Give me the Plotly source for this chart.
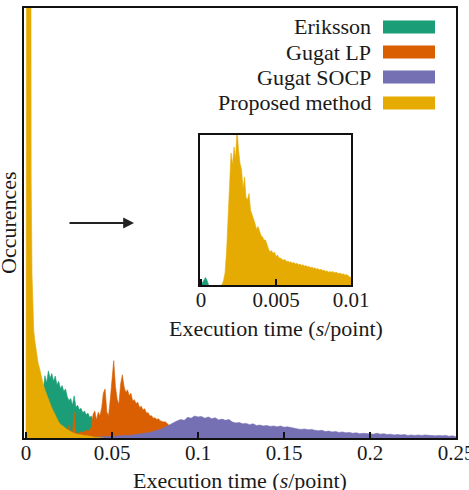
import plotly.graph_objects as go

W, H = 469, 490

# ---------------- data (main histogram, arbitrary occurrence units) ----------------
proposed_x = [0.0, 0.0005, 0.001, 0.0015, 0.002, 0.0025, 0.003, 0.0035, 0.004, 0.0045,
              0.005, 0.006, 0.007, 0.008, 0.009, 0.010, 0.011, 0.012, 0.013, 0.014,
              0.015, 0.016, 0.017, 0.018, 0.019, 0.020, 0.022, 0.024, 0.026, 0.028,
              0.030, 0.032, 0.034, 0.036, 0.038, 0.040, 0.045]
proposed_y = [0, 150, 400, 500, 450, 200, 60, 38, 29, 25,
              23, 20, 17.5, 16, 14, 12.5, 11.2, 10, 9, 8,
              7, 6.2, 5.4, 4.3, 3.7, 3.2, 2.5, 2.0, 1.5, 1.1,
              0.9, 0.7, 0.6, 0.5, 0.3, 0.2, 0]

eriksson_x = [0.009, 0.010, 0.011, 0.012, 0.013, 0.014, 0.015, 0.016, 0.017, 0.018,
              0.019, 0.020, 0.021, 0.022, 0.023, 0.024, 0.025, 0.026, 0.027, 0.028,
              0.029, 0.030, 0.031, 0.032, 0.033, 0.034, 0.035, 0.036, 0.037, 0.038,
              0.039, 0.040, 0.041, 0.042]
eriksson_y = [4, 11, 14.5, 12.8, 15.6, 13.9, 15.0, 13.2, 14.4, 12.4,
              13.2, 11.5, 12.2, 10.8, 11.4, 9.6, 8.7, 9.2, 7.6, 9.8,
              7.2, 7.6, 6.6, 6.9, 5.9, 6.3, 5.4, 5.8, 4.8, 5.1,
              3.9, 2.5, 1.2, 0]

gugat_lp_x = [0.024, 0.025, 0.026, 0.027, 0.028, 0.029, 0.030, 0.031, 0.032, 0.033,
              0.034, 0.035, 0.036, 0.037, 0.038, 0.039, 0.040, 0.041, 0.042, 0.043,
              0.044, 0.045, 0.046, 0.047, 0.048, 0.049, 0.050, 0.051, 0.052, 0.053,
              0.054, 0.055, 0.056, 0.057, 0.058, 0.059, 0.060, 0.061, 0.062, 0.063,
              0.064, 0.065, 0.066, 0.067, 0.068, 0.069, 0.070, 0.071, 0.072, 0.073,
              0.074, 0.075, 0.076, 0.077, 0.078, 0.079, 0.080, 0.081, 0.082, 0.083,
              0.084, 0.085, 0.086, 0.087]
gugat_lp_y = [0.5, 3.0, 0.8, 1.0, 6.0, 1.2, 1.0, 1.3, 1.5, 1.2,
              1.6, 1.8, 1.5, 2.0, 2.5, 5.5, 6.3, 4.2, 6.0, 5.2,
              7.0, 10.5, 11.4, 6.0, 5.2, 9.0, 13.0, 18.0, 12.0, 9.0,
              7.8, 12.5, 14.7, 12.0, 10.6, 11.2, 9.8, 10.4, 8.6, 8.9,
              8.0, 8.3, 7.1, 7.4, 6.5, 6.8, 5.8, 5.9, 5.1, 5.2,
              4.6, 4.7, 4.3, 4.5, 4.0, 3.9, 3.7, 3.8, 3.4, 3.2,
              2.6, 1.5, 0.5, 0]

gugat_socp_x = [round(0.036 + 0.002 * i, 3) for i in range(108)]
gugat_socp_y = [0.0, 0.1, 0.2, 0.2, 0.3, 0.3, 0.3, 0.4, 0.4, 0.5,
                0.5, 0.6, 0.6, 0.7, 0.8, 0.9, 1.0, 1.2, 1.3, 1.5,
                1.7, 2.0, 2.3, 2.8, 3.2, 3.6, 4.0, 4.3, 4.1, 4.8,
                4.6, 5.1, 4.9, 5.0, 4.6, 4.9, 4.5, 4.7, 4.2, 4.4,
                4.1, 4.3, 3.7, 3.5, 3.6, 3.3, 3.4, 3.1, 3.3, 2.9,
                3.0, 2.8, 2.9, 2.7, 2.8, 2.6, 2.8, 2.5, 2.6, 2.4,
                2.3, 2.1, 2.0, 2.1, 1.9, 2.0, 1.8, 1.7, 1.8, 1.5,
                1.6, 1.4, 1.5, 1.3, 1.4, 1.2, 1.3, 1.1, 1.2, 1.0,
                1.1, 1.0, 1.0, 0.9, 1.1, 0.9, 1.0, 0.8, 0.9, 0.7,
                0.8, 0.7, 0.8, 0.6, 0.7, 0.6, 0.7, 0.6, 0.7, 0.6,
                0.6, 0.5, 0.6, 0.5, 0.6, 0.4, 0.5, 0.3]

# ---------------- data (inset, 0 .. 0.01 s/point) ----------------
inset_eriksson_x = [0.0, 0.0001, 0.0002, 0.0003, 0.0004, 0.0005]
inset_eriksson_y = [0, 2, 4, 5, 3, 0]

inset_proposed_x = [round(0.0013 + 0.0001 * i, 4) for i in range(88)]
inset_proposed_y = [0, 0, 3, 8, 22, 45, 62, 88, 80, 92,
                    84, 104, 90, 81, 77, 64, 72, 58, 57, 61,
                    50, 47, 45, 41, 37, 39, 36, 33, 32, 30,
                    30, 26, 24, 22, 23, 21, 22, 19, 20, 18,
                    18, 17, 16.5, 17, 15.5, 16, 15, 15.5, 14.5, 15,
                    14, 14.5, 13.5, 14, 13, 13.5, 12.5, 13, 12, 12.5,
                    11.5, 12, 11, 11.5, 10.5, 11, 10, 10.5, 9.5, 10,
                    9, 9.5, 8.5, 9, 8.5, 9, 8, 8.5, 8, 7.5,
                    8, 7, 7.5, 6.5, 7, 6, 5.5, 5]

main_ticks = [0, 0.05, 0.1, 0.15, 0.2, 0.25]
main_tick_labels = ["0", "0.05", "0.1", "0.15", "0.2", "0.25"]
inset_ticks = [0, 0.005, 0.01]
inset_tick_labels = ["0", "0.005", "0.01"]

series_names = ["Eriksson", "Gugat LP", "Gugat SOCP", "Proposed method"]
colors = {"Eriksson": "#1b9e77", "Gugat LP": "#d95f02",
          "Gugat SOCP": "#7570b3", "Proposed method": "#e6ab02"}

FONT = "Liberation Serif"
TXT = "#1a1a1a"


def px_x(p):
    return p / W


def px_y(p):
    return (H - p) / H


fig = go.Figure()


def area(x, y, name, xa="x", ya="y"):
    fig.add_trace(go.Scatter(
        x=x, y=y, mode="lines", fill="tozeroy", name=name,
        line=dict(color=colors[name], width=0.6),
        fillcolor=colors[name], xaxis=xa, yaxis=ya, showlegend=False,
        hoverinfo="skip"))


# drawing order (back to front) as in the reference
area(eriksson_x, eriksson_y, "Eriksson")
area(gugat_lp_x, gugat_lp_y, "Gugat LP")
area(gugat_socp_x, gugat_socp_y, "Gugat SOCP")
area(proposed_x, proposed_y, "Proposed method")

area(inset_eriksson_x, inset_eriksson_y, "Eriksson", "x2", "y2")
area(inset_proposed_x, inset_proposed_y, "Proposed method", "x2", "y2")

axis_common = dict(showgrid=False, zeroline=False, showline=True, linecolor="#111",
                   linewidth=1.5, mirror=True, automargin=False)

fig.update_layout(
    width=W, height=H, autosize=False, showlegend=False,
    margin=dict(l=0, r=0, t=0, b=0, pad=0),
    paper_bgcolor="white", plot_bgcolor="white",
    font=dict(family=FONT, size=21, color=TXT),
    xaxis=dict(domain=[px_x(24), px_x(456)], range=[-0.00116, 0.25],
               tickvals=main_ticks, ticktext=main_tick_labels,
               ticks="inside", ticklen=6, tickwidth=1.5, tickcolor="#111",
               ticklabeloverflow="allow", ticklabelstandoff=-5,
               **axis_common),
    yaxis=dict(domain=[px_y(438), px_y(8)], range=[0, 100],
               showticklabels=False, ticks="", **axis_common),
    xaxis2=dict(domain=[px_x(200), px_x(351)], range=[-0.00007, 0.01],
                anchor="y2",
                tickvals=inset_ticks, ticktext=inset_tick_labels,
                ticks="inside", ticklen=6, tickwidth=1.5, tickcolor="#111",
                ticklabeloverflow="allow", ticklabelstandoff=-5,
                **axis_common),
    yaxis2=dict(domain=[px_y(285), px_y(135)], range=[0, 100], anchor="x2",
                showticklabels=False, ticks="", **axis_common),
)

annotations = [
    dict(text="Execution time (<i>s</i>/point)", x=px_x(240), y=px_y(480),
         xref="paper", yref="paper", showarrow=False, xanchor="center",
         yanchor="middle", font=dict(size=22, family=FONT, color=TXT)),
    dict(text="Execution time (<i>s</i>/point)", x=px_x(276), y=px_y(328),
         xref="paper", yref="paper", showarrow=False, xanchor="center",
         yanchor="middle", font=dict(size=22, family=FONT, color=TXT)),
    dict(text="Occurences", x=px_x(8), y=px_y(223), xref="paper", yref="paper",
         showarrow=False, textangle=-90, xanchor="center", yanchor="middle",
         font=dict(size=22, family=FONT, color=TXT)),
    dict(text="", x=px_x(134), y=px_y(223), xref="paper", yref="paper",
         showarrow=True, ax=-66, ay=0, axref="pixel", ayref="pixel",
         arrowhead=2, arrowsize=1.2, arrowwidth=1.8, arrowcolor="#222"),
]

shapes = []
row_y = [27, 52, 77, 103]
for name, ry in zip(series_names, row_y):
    annotations.append(dict(text=name, x=px_x(373), y=px_y(ry), xref="paper",
                            yref="paper", showarrow=False, xanchor="right",
                            yanchor="middle",
                            font=dict(size=22, family=FONT, color=TXT)))
    shapes.append(dict(type="rect", xref="paper", yref="paper",
                       x0=px_x(383), x1=px_x(435), y0=px_y(ry + 6.5), y1=px_y(ry - 6.5),
                       fillcolor=colors[name], line=dict(width=0)))

fig.update_layout(annotations=annotations, shapes=shapes)

fig.write_html("out.html")
